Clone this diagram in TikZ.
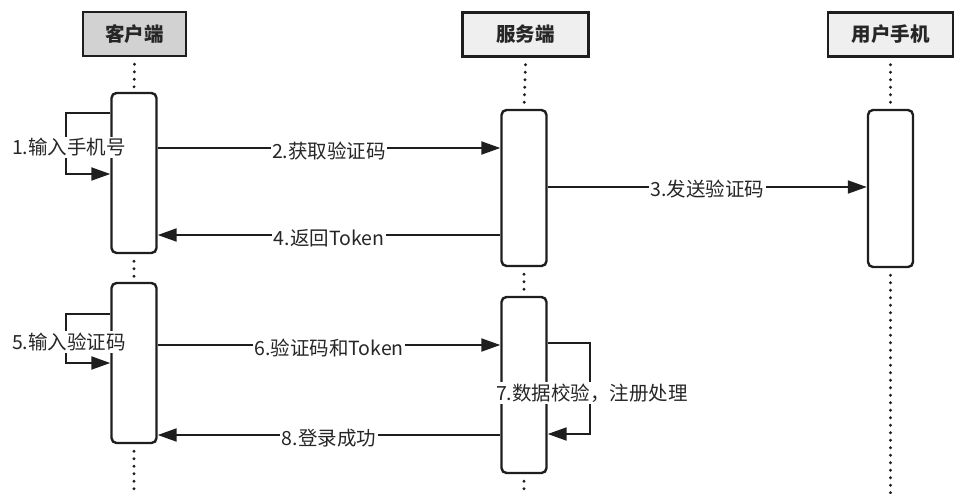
\documentclass[tikz,border=0pt]{standalone}
\usepackage{fontspec}
\setmainfont{Noto Sans CJK SC}
\usetikzlibrary{arrows.meta}
\definecolor{txt}{HTML}{262626}
\definecolor{hdrdark}{HTML}{D2D2D2}
\definecolor{hdrlight}{HTML}{EFEFEF}
\definecolor{ln}{HTML}{1E1E1E}
\tikzset{
  hdr/.style={draw=ln, line width=2.6pt, minimum width=#1, minimum height=44pt, inner sep=0pt, font=\fontsize{19.5}{21}\selectfont\bfseries, text=txt},
  actbox/.style={draw=ln, line width=2.4pt, fill=white, rounded corners=5pt, minimum width=45pt, inner sep=0pt},
  life/.style={draw=ln, line width=3.2pt, line cap=round, dash pattern=on 0pt off 7.5pt},
  msg/.style={draw=ln, line width=2.1pt, -{Triangle[length=19pt,width=13pt]}},
  lbl/.style={fill=white, text=txt, inner sep=1.5pt, font=\fontsize{19.5}{21}\selectfont},
}
\begin{document}
\begin{tikzpicture}[x=1pt,y=-1pt]
\useasboundingbox (0,0) rectangle (964,493);
\coordinate (bot) at (0,500);
% headers
\node[hdr=103pt, fill=hdrdark] (hc) at (134.5,34) {客户端};
\node[hdr=126pt, fill=hdrlight] (hs) at (525.5,34.5) {服务端};
\node[hdr=125pt, fill=hdrlight] (hp) at (890.5,34.5) {用户手机};
% activation boxes
\node[actbox, minimum height=160pt] (c1) at (134,173) {};
\node[actbox, minimum height=160pt] (c2) at (134,363) {};
\node[actbox, minimum height=156pt] (s1) at (524,188) {};
\node[actbox, minimum height=176pt] (s2) at (524,385) {};
\node[actbox, minimum height=157pt] (p1) at (890.5,188.5) {};
% lifelines
\path[life] (hc.south) ++(0,7) -- (c1.north);
\path[life] (c1.south) ++(0,7) -- (c2.north);
\path[life] (c2.south) ++(0,7) -- (c2.south |- bot);
\path[life] (hs.south) ++(0,7) -- (s1.north);
\path[life] (s1.south) ++(0,7) -- (s2.north);
\path[life] (s2.south) ++(0,7) -- (s2.south |- bot);
\path[life] (hp.south) ++(0,7) -- (p1.north);
\path[life] (p1.south) ++(0,7) -- (p1.south |- bot);
% messages
\draw[msg] (c1.east |- 0,148) -- node[lbl, yshift=-3pt] (m2) {2.获取验证码} (s1.west |- 0,148);
\draw[msg] (s1.east |- 0,187) -- node[lbl, yshift=-2pt] (m3) {3.发送验证码} (p1.west |- 0,187);
\draw[msg] (s1.west |- 0,235) -- node[lbl, yshift=-3pt] (m4) {4.返回Token} (c1.east |- 0,235);
\draw[msg] (c2.east |- 0,345) -- node[lbl, yshift=-3pt] (m6) {6.验证码和Token} (s2.west |- 0,345);
\draw[msg] (s2.west |- 0,435) -- node[lbl, yshift=-3pt] (m8) {8.登录成功} (c2.east |- 0,435);
% self loops
\coordinate (l1a) at (66,113);
\coordinate (l1b) at (66,174);
\draw[msg] (c1.west |- l1a) -- (l1a) -- (l1b) -- (c1.west |- l1b);
\node[lbl] (m1) at (69,147) {1.输入手机号};
\coordinate (l5a) at (66,314);
\coordinate (l5b) at (66,363);
\draw[msg] (c2.west |- l5a) -- (l5a) -- (l5b) -- (c2.west |- l5b);
\node[lbl] (m5) at (69,342) {5.输入验证码};
\coordinate (l7a) at (590,343);
\coordinate (l7b) at (590,434);
\draw[msg] (s2.east |- l7a) -- (l7a) -- (l7b) -- (s2.east |- l7b);
\node[lbl] (m7) at (592,393) {7.数据校验，注册处理};
\end{tikzpicture}
\end{document}
